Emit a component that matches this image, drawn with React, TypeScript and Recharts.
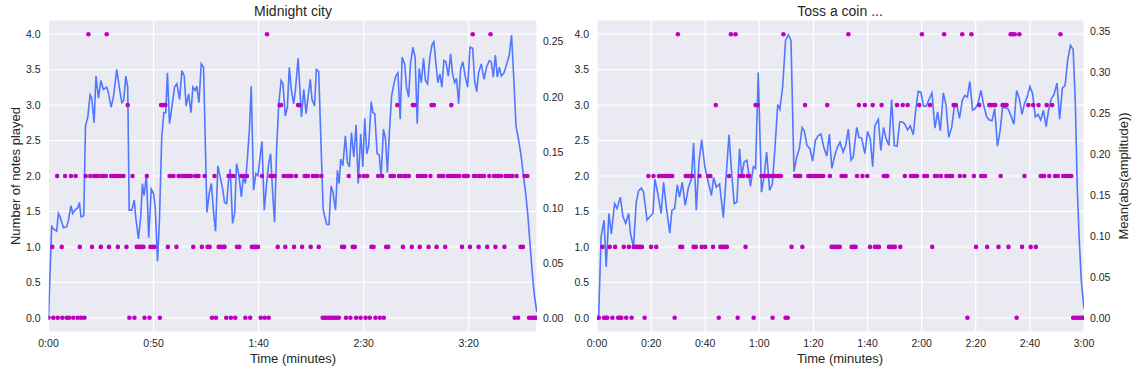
import { ComposedChart, Line, Scatter, XAxis, YAxis, CartesianGrid } from "recharts";

// time (s) -> mean(abs(amplitude))
const MIDNIGHT_AMP: [number, number][] = [
  [0, 0], [1.5, 0.084], [2.3, 0.081], [3.9, 0.079], [4.7, 0.095], [5.5, 0.092], [7.1, 0.082], [8.7, 0.083],
  [9.5, 0.089], [10.7, 0.102], [11.5, 0.095], [12.6, 0.098], [13.9, 0.1], [14.7, 0.105], [15.5, 0.092],
  [16.8, 0.093], [17.6, 0.174], [18.7, 0.182], [19.8, 0.202], [20.6, 0.199], [21.7, 0.177], [22.6, 0.219],
  [23.8, 0.199], [24.9, 0.215], [26.1, 0.207], [27.7, 0.209], [28.5, 0.204], [29.8, 0.191], [30.9, 0.2],
  [32.5, 0.225], [33.6, 0.21], [34.9, 0.195], [35.8, 0.197], [36.8, 0.219], [37.7, 0.209], [38.4, 0.098],
  [39.6, 0.098], [40.8, 0.107], [41.5, 0.092], [42.8, 0.072], [43.9, 0.092], [44.7, 0.122], [45.5, 0.111],
  [46.6, 0.13], [47.7, 0.073], [48.9, 0.117], [50, 0.113], [50.8, 0.1], [51.9, 0.052], [52.8, 0.089],
  [53.9, 0.164], [54.9, 0.186], [55.8, 0.186], [56.6, 0.222], [57.6, 0.176], [58.7, 0.191], [60, 0.209],
  [61.1, 0.212], [62.4, 0.198], [63.5, 0.224], [64.6, 0.219], [65.5, 0.192], [66.7, 0.203], [67.8, 0.186],
  [68.7, 0.209], [69.8, 0.206], [70.6, 0.21], [71.6, 0.195], [72.7, 0.23], [73.8, 0.227], [75.4, 0.096],
  [76.5, 0.113], [77.5, 0.122], [78.6, 0.095], [79.5, 0.079], [80.6, 0.138], [81.7, 0.128], [82.9, 0.117],
  [83.8, 0.105], [84.8, 0.104], [85.7, 0.125], [86.5, 0.135], [87.6, 0.086], [88.6, 0.095], [89.5, 0.14],
  [90.5, 0.131], [91.8, 0.11], [92.7, 0.128], [93.7, 0.122], [94.6, 0.143], [95.6, 0.17], [96.5, 0.21],
  [97.6, 0.116], [98.7, 0.131], [99.7, 0.129], [100.7, 0.146], [101.6, 0.16], [102.7, 0.098], [103.8, 0.122],
  [104.8, 0.14], [105.7, 0.149], [106.7, 0.113], [107.6, 0.087], [108.6, 0.155], [109.6, 0.194], [110.7, 0.215],
  [111.6, 0.212], [112.7, 0.183], [113.7, 0.191], [114.6, 0.227], [115.6, 0.206], [116.7, 0.194], [117.5, 0.206],
  [118.8, 0.235], [119.6, 0.209], [120.4, 0.182], [121.5, 0.207], [122.6, 0.185], [123.5, 0.2], [124.6, 0.216],
  [125.4, 0.198], [126.6, 0.192], [127.5, 0.225], [128.6, 0.223], [130.7, 0.099], [131.5, 0.092], [132.4, 0.085],
  [133.5, 0.085], [134.5, 0.12], [135.4, 0.114], [136.6, 0.098], [137.5, 0.134], [138.3, 0.122], [139.1, 0.144],
  [140.1, 0.138], [141.3, 0.165], [142.3, 0.141], [143.2, 0.137], [144.2, 0.168], [145.3, 0.146], [146.4, 0.175],
  [147.4, 0.122], [148.6, 0.167], [149.6, 0.137], [150.5, 0.181], [151.5, 0.149], [152.4, 0.156], [153.6, 0.196],
  [154.4, 0.186], [155.3, 0.185], [156.4, 0.149], [157.4, 0.148], [158.3, 0.128], [159.4, 0.171], [160.4, 0.162],
  [161.3, 0.132], [162.3, 0.17], [163.3, 0.201], [164.4, 0.212], [165.3, 0.219], [166.3, 0.222], [167.4, 0.18],
  [168.3, 0.236], [169.5, 0.23], [170.4, 0.209], [171.4, 0.2], [172.3, 0.23], [173.4, 0.245], [174.5, 0.236],
  [175.5, 0.176], [176.4, 0.226], [177.4, 0.213], [178.5, 0.235], [179.4, 0.215], [180.4, 0.212], [181.5, 0.236],
  [182.5, 0.247], [183.4, 0.25], [184.4, 0.23], [185.3, 0.213], [186.3, 0.221], [187.2, 0.209], [188.2, 0.233],
  [189.1, 0.232], [190.3, 0.219], [191.4, 0.239], [192.3, 0.221], [193.3, 0.213], [194.2, 0.217], [195.2, 0.194],
  [196.1, 0.225], [197.2, 0.232], [198.4, 0.218], [199.5, 0.209], [200.6, 0.245], [201.9, 0.244], [202.8, 0.215],
  [203.8, 0.205], [204.7, 0.222], [206, 0.23], [207.3, 0.216], [208.5, 0.227], [209.8, 0.233], [210.7, 0.232],
  [211.7, 0.218], [212.7, 0.238], [213.6, 0.218], [214.6, 0.227], [215.5, 0.219], [216.8, 0.222], [218.1, 0.23],
  [219.3, 0.238], [220.4, 0.256], [221.5, 0.215], [222.5, 0.174], [223.8, 0.161], [225, 0.146], [226.3, 0.125],
  [227.3, 0.11], [228.2, 0.092], [229.2, 0.067], [230.3, 0.04], [231.2, 0.022], [232.4, 0.006],
];

// times (s) at which n notes were played
const MIDNIGHT_N4 = [19.0, 27.7, 104.0, 201.9, 210.4];
const MIDNIGHT_N3 = [37.7, 53.6, 54.6, 55.6, 110.0, 110.7, 118.8, 119.4, 166.0, 173.4, 174.2, 182.3, 183.4, 191.7];
const MIDNIGHT_N2 = [
  4.1, 7.9, 10.7, 12.9, 17.7, 19.9, 21.8, 22.6, 23.4, 25.0, 26.1, 27.3, 29.8, 30.6, 31.4, 32.2, 33.6, 34.6, 35.7,
  40.0, 46.8, 57.6, 58.7, 59.5, 61.9, 62.7, 63.5, 64.3, 65.1, 65.9, 66.7, 67.8, 69.8, 70.6, 71.4, 74.3, 79.0,
  85.7, 87.3, 88.1, 91.8, 92.9, 94.5, 101.6, 105.6, 106.7, 107.6, 111.9, 113.5, 114.6, 115.6, 117.8, 121.9,
  122.7, 123.5, 125.8, 126.5, 127.3, 128.0, 129.9, 142.9, 148.0, 150.1, 151.7, 156.9, 158.8, 162.8, 163.6,
  164.4, 166.8, 167.7, 169.4, 170.2, 171.5, 175.8, 177.1, 178.3, 179.4, 181.8, 185.8, 186.9, 187.9, 190.1,
  191.0, 192.2, 193.3, 194.5, 195.5, 197.7, 198.7, 199.6, 202.5, 203.4, 204.9, 206.0, 207.3, 209.8, 212.0,
  213.1, 214.4, 215.5, 217.6, 218.7, 220.0, 220.8, 222.8, 226.6, 227.9,
];
const MIDNIGHT_N1 = [
  1.8, 6.3, 14.9, 20.7, 24.9, 28.8, 33.0, 37.1, 42.0, 42.8, 43.6, 44.4, 45.2, 48.5, 49.5, 50.4, 56.8, 60.9,
  68.9, 73.0, 75.7, 76.7, 81.0, 81.9, 82.9, 83.8, 89.7, 90.8, 96.8, 97.8, 98.7, 99.7, 109.1, 112.7, 116.9,
  120.7, 124.8, 128.6, 139.7, 140.7, 144.8, 145.8, 153.7, 154.7, 160.7, 161.7, 168.7, 172.9, 176.7, 180.9,
  184.7, 188.8, 196.8, 200.6, 204.7, 208.8, 212.7, 217.0, 224.7, 225.8,
];
const MIDNIGHT_N0 = [
  0, 2.3, 4.4, 6.6, 8.7, 9.8, 11.8, 13.9, 15.5, 17.1, 38.5, 40.9, 45.7, 48.1, 53.0, 77.8, 79.7, 84.6, 86.8,
  88.9, 93.7, 96.0, 101.0, 102.9, 104.8, 130.5, 131.5, 132.4, 133.4, 134.3, 135.3, 136.2, 137.4, 138.2, 141.6,
  143.7, 146.4, 148.5, 150.9, 152.9, 155.6, 157.7, 159.6, 221.9, 223.5, 228.7, 229.8, 230.8, 231.7, 232.4,
];

const COIN_AMP: [number, number][] = [
  [0, 0], [0.6, 0], [1.5, 0.099], [2.6, 0.12], [3.4, 0.063], [4.4, 0.128], [5.3, 0.103], [6.5, 0.14],
  [7.4, 0.134], [8.6, 0.148], [9.6, 0.124], [10.6, 0.116], [11.7, 0.128], [12.4, 0.103], [13.5, 0.087],
  [14.5, 0.142], [15.4, 0.156], [16.4, 0.159], [17.2, 0.154], [18.5, 0.12], [19.5, 0.124], [20.7, 0.128],
  [21.4, 0.17], [22.5, 0.152], [23.7, 0.128], [24.6, 0.166], [25.6, 0.136], [26.9, 0.104], [27.7, 0.132],
  [28.7, 0.134], [29.7, 0.163], [30.5, 0.148], [31.5, 0.166], [32.6, 0.138], [33.8, 0.16], [34.9, 0.17],
  [35.7, 0.214], [36.7, 0.132], [37.7, 0.191], [38.7, 0.218], [39.8, 0.186], [41, 0.168], [42.3, 0.15],
  [43.1, 0.172], [44.1, 0.16], [45.3, 0.164], [46.7, 0.123], [47.7, 0.172], [48.8, 0.224], [49.8, 0.176],
  [50.7, 0.14], [51.7, 0.142], [52.7, 0.207], [53.5, 0.174], [54.4, 0.191], [55.4, 0.193], [56.7, 0.161],
  [57.8, 0.185], [58.6, 0.183], [59.6, 0.3], [60.8, 0.154], [61.8, 0.174], [62.7, 0.203], [63.8, 0.156],
  [64.8, 0.164], [65.8, 0.209], [66.8, 0.261], [67.6, 0.255], [68.6, 0.282], [69.7, 0.339], [70.7, 0.346],
  [71.7, 0.339], [72.8, 0.179], [73.8, 0.197], [74.8, 0.207], [75.8, 0.233], [76.6, 0.229], [77.6, 0.211],
  [78.7, 0.207], [79.7, 0.192], [80.7, 0.217], [81.8, 0.223], [82.8, 0.225], [83.8, 0.209], [84.9, 0.198],
  [85.9, 0.225], [86.8, 0.183], [87.9, 0.199], [88.9, 0.209], [89.8, 0.215], [91, 0.203], [91.9, 0.211],
  [92.9, 0.231], [93.9, 0.193], [94.7, 0.197], [96, 0.233], [96.8, 0.221], [97.8, 0.22], [99, 0.201],
  [100, 0.228], [101, 0.219], [101.9, 0.185], [102.7, 0.235], [104, 0.243], [104.9, 0.205], [105.9, 0.233],
  [106.9, 0.219], [107.9, 0.211], [108.9, 0.267], [109.9, 0.211], [110.9, 0.21], [111.9, 0.24], [112.8, 0.24],
  [113.8, 0.237], [114.8, 0.23], [115.8, 0.235], [116.9, 0.224], [117.8, 0.254], [118.7, 0.277], [119.7, 0.276],
  [120.7, 0.259], [121.7, 0.259], [122.7, 0.267], [123.8, 0.275], [124.9, 0.232], [125.9, 0.252], [126.9, 0.229],
  [128, 0.275], [129, 0.26], [130, 0.221], [131.1, 0.233], [132.1, 0.259], [133, 0.26], [134, 0.244],
  [135, 0.266], [136, 0.272], [136.9, 0.27], [137.8, 0.289], [138.8, 0.254], [139.8, 0.256], [140.8, 0.262],
  [141.9, 0.278], [142.8, 0.262], [144, 0.246], [145, 0.242], [146, 0.241], [147, 0.256], [148, 0.21],
  [149, 0.229], [149.9, 0.257], [150.9, 0.257], [151.9, 0.256], [152.9, 0.248], [154.1, 0.237], [155.1, 0.278],
  [156.1, 0.268], [157.1, 0.249], [158, 0.262], [159, 0.27], [160, 0.283], [161, 0.274], [162, 0.246],
  [163, 0.249], [164, 0.242], [165, 0.254], [166, 0.234], [166.9, 0.254], [167.9, 0.268], [168.9, 0.273],
  [170, 0.287], [171, 0.243], [172, 0.281], [173, 0.284], [174, 0.316], [175, 0.333], [176, 0.328],
  [176.8, 0.262], [177.5, 0.16], [178.2, 0.099], [179, 0.046], [180, 0.012],
];

const COIN_N4 = [29.9, 49.5, 51.2, 68.9, 92.9, 120.1, 128.3, 135.0, 138.4, 152.9, 153.6, 154.4, 156.1, 171.3];
const COIN_N3 = [
  43.9, 58.6, 59.3, 76.9, 85.1, 96.8, 99.0, 101.9, 105.2, 110.9, 113.0, 114.8, 119.1, 123.1, 131.8, 132.6,
  141.3, 145.0, 145.7, 146.5, 147.2, 149.9, 150.7, 151.4, 159.4, 161.2, 163.2, 166.2, 168.2,
];
const COIN_N2 = [
  19.0, 20.9, 22.9, 23.5, 24.1, 24.8, 25.4, 26.0, 26.6, 27.2, 27.8, 32.8, 33.4, 34.0, 34.6, 35.2, 37.9, 41.1,
  41.9, 48.8, 52.8, 53.5, 54.1, 55.7, 56.3, 60.8, 61.8, 62.7, 63.3, 64.5, 65.5, 66.1, 66.8, 67.4, 68.0, 73.2,
  73.9, 74.6, 75.1, 78.1, 78.8, 79.6, 80.3, 81.0, 81.8, 82.6, 83.6, 86.1, 90.4, 91.2, 91.9, 96.1, 98.1, 99.9,
  106.0, 106.7, 107.3, 113.8, 116.0, 116.8, 117.5, 118.3, 121.0, 122.0, 124.9, 125.6, 127.1, 129.1, 129.8,
  130.6, 131.3, 134.1, 135.8, 139.3, 142.0, 142.8, 143.4, 149.2, 158.0, 164.0, 164.7, 165.3, 167.2, 169.3,
  170.3, 172.3, 173.1, 173.8, 174.6, 175.3,
];
const COIN_N1 = [
  2.0, 4.7, 6.7, 9.9, 11.8, 13.6, 14.3, 15.0, 15.8, 16.6, 20.0, 21.9, 30.8, 31.5, 35.7, 36.5, 38.7, 40.0, 42.9,
  45.6, 46.5, 47.3, 48.0, 54.9, 71.9, 75.9, 86.7, 87.5, 88.2, 89.0, 89.7, 94.1, 94.9, 95.6, 100.9, 102.7,
  103.5, 104.2, 107.9, 108.6, 109.4, 110.1, 112.1, 123.9, 140.1, 144.2, 148.4, 152.1, 157.1, 160.3, 162.2,
];
const COIN_N0 = [
  0, 0.7, 2.6, 3.2, 3.8, 5.7, 7.8, 8.4, 9.0, 10.8, 12.8, 17.6, 28.7, 45.0, 52.0, 57.9, 64.9, 69.7, 70.5,
  136.9, 155.1, 176.0, 176.8, 177.5, 178.3, 179.0, 179.7,
];

const NOTE_TICKS = [0, 0.5, 1, 1.5, 2, 2.5, 3, 3.5, 4];
const MIDNIGHT_X_TICKS = [0, 50, 100, 150, 200];
const COIN_X_TICKS = [0, 20, 40, 60, 80, 100, 120, 140, 160, 180];
const MIDNIGHT_AMP_TICKS = [0, 0.05, 0.1, 0.15, 0.2, 0.25];
const COIN_AMP_TICKS = [0, 0.05, 0.1, 0.15, 0.2, 0.25, 0.3, 0.35];

const TEXT = "#262626";
const FONT = "'Liberation Sans', Arial, sans-serif";

const toLine = (rows: [number, number][]) => rows.map(([t, amp]) => ({ t, amp }));
const toDots = (levels: number[][]) =>
  levels.flatMap((times, n) => times.map((t) => ({ t, n })));

const fmtTime = (s: number) => `${Math.floor(s / 60)}:${String(s % 60).padStart(2, "0")}`;

const dotShape = (p: any) => <circle cx={p.cx} cy={p.cy} r={2.3} fill="#BF00BF" />;

function Panel(props: {
  left: number;
  width: number;
  leftW: number;
  rightW: number;
  xMax: number;
  xTicks: number[];
  ampDomain: [number, number];
  ampTicks: number[];
  line: { t: number; amp: number }[];
  dots: { t: number; n: number }[];
}) {
  const tick = { fontSize: 10.5, fill: TEXT, fontFamily: FONT };
  return (
    <div style={{ position: "absolute", left: props.left, top: 0 }}>
      <ComposedChart
        width={props.width}
        height={373}
        margin={{ top: 20, right: 0, bottom: 11, left: 0 }}
      >
        <CartesianGrid fill="#EAEAF2" stroke="#ffffff" strokeWidth={1.2} />
        <XAxis
          dataKey="t"
          type="number"
          domain={[0, props.xMax]}
          ticks={props.xTicks}
          interval={0}
          tickFormatter={fmtTime}
          axisLine={false}
          tickLine={false}
          height={30}
          tick={tick}
          allowDataOverflow
        />
        <YAxis
          type="number"
          domain={[-0.2, 4.2]}
          ticks={NOTE_TICKS}
          interval={0}
          tickFormatter={(v: number) => v.toFixed(1)}
          axisLine={false}
          tickLine={false}
          width={props.leftW}
          tick={tick}
          allowDataOverflow
        />
        <YAxis
          yAxisId="amp"
          orientation="right"
          type="number"
          domain={props.ampDomain}
          ticks={props.ampTicks}
          interval={0}
          tickFormatter={(v: number) => v.toFixed(2)}
          axisLine={false}
          tickLine={false}
          tickMargin={0}
          width={props.rightW}
          tick={tick}
          allowDataOverflow
        />
        <Scatter data={props.dots} dataKey="n" shape={dotShape} isAnimationActive={false} />
        <Line
          data={props.line}
          dataKey="amp"
          yAxisId="amp"
          type="linear"
          stroke="#5176FF"
          strokeWidth={1.6}
          dot={false}
          activeDot={false}
          isAnimationActive={false}
        />
      </ComposedChart>
    </div>
  );
}

const centered = (x: number, y: number, size: number, rotate = false): React.CSSProperties => ({
  position: "absolute",
  left: x,
  top: y,
  transform: `translate(-50%, -50%)${rotate ? " rotate(-90deg)" : ""}`,
  whiteSpace: "nowrap",
  fontSize: size,
  lineHeight: 1,
  color: TEXT,
  fontFamily: FONT,
});

export default function App() {
  return (
    <div
      style={{
        position: "absolute",
        left: 0,
        top: 0,
        width: 1143,
        height: 373,
        background: "#ffffff",
        overflow: "hidden",
      }}
    >
      <Panel
        left={0}
        width={580}
        leftW={48.5}
        rightW={43}
        xMax={232.5}
        xTicks={MIDNIGHT_X_TICKS}
        ampDomain={[-0.012, 0.2696]}
        ampTicks={MIDNIGHT_AMP_TICKS}
        line={toLine(MIDNIGHT_AMP)}
        dots={toDots([MIDNIGHT_N0, MIDNIGHT_N1, MIDNIGHT_N2, MIDNIGHT_N3, MIDNIGHT_N4])}
      />
      <Panel
        left={560}
        width={583}
        leftW={37}
        rightW={59}
        xMax={180}
        xTicks={COIN_X_TICKS}
        ampDomain={[-0.0165, 0.364]}
        ampTicks={COIN_AMP_TICKS}
        line={toLine(COIN_AMP)}
        dots={toDots([COIN_N0, COIN_N1, COIN_N2, COIN_N3, COIN_N4])}
      />
      <div style={centered(293, 11, 14)}>Midnight city</div>
      <div style={centered(840, 11, 14)}>Toss a coin ...</div>
      <div style={centered(293, 358, 13)}>Time (minutes)</div>
      <div style={centered(840, 358, 13)}>Time (minutes)</div>
      <div style={centered(15, 176, 13, true)}>Number of notes played</div>
      <div style={centered(1123, 176, 13, true)}>Mean(abs(amplitude))</div>
    </div>
  );
}
